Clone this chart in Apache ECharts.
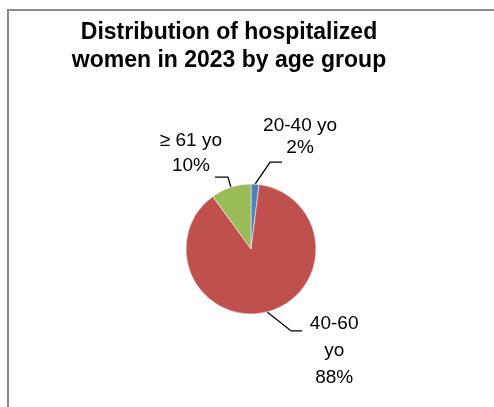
<!DOCTYPE html>
<html>
<head>
<meta charset="utf-8">
<title>Distribution of hospitalized women in 2023 by age group</title>
<script src="https://cdn.jsdelivr.net/npm/echarts@6/dist/echarts.min.js"></script>
<style>
  html, body { margin: 0; padding: 0; background: #fff; }
  #chart { width: 494px; height: 407px; }
</style>
</head>
<body>
<div id="chart"></div>
<script>
// Age groups and their share of hospitalized women (percent)
const categories = ['20-40 yo', '40-60\nyo', '\u2265 61 yo'];
const shares = [2, 88, 10];
const colors = ['#4F81BD', '#C0504D', '#9BBB59'];

// Leader line bends / label centres, relative to the slice edge point
const leaderStyle = [
  { bend: [15, -22], end: [27, -22], text: [45, -47], lineHeight: 22 },
  { bend: [24, 19], end: [35, 19], text: [67, 39], lineHeight: 27 },
  { bend: [-3, -10], end: [-16, -10], text: [-40, -34], lineHeight: 25 }
];

const chart = echarts.init(document.getElementById('chart'), null, { renderer: 'canvas' });

const pieData = categories.map((name, i) => ({
  name: name,
  value: shares[i],
  itemStyle: { color: colors[i] },
  label: { lineHeight: leaderStyle[i].lineHeight }
}));

chart.setOption({
  animation: false,
  backgroundColor: '#ffffff',
  title: {
    text: 'Distribution of hospitalized\nwomen in 2023 by age group',
    left: 229,
    top: 19,
    textAlign: 'center',
    padding: 0,
    textStyle: {
      fontFamily: 'Liberation Sans, Arial, sans-serif',
      fontSize: 23,
      fontWeight: 'bold',
      color: '#000',
      lineHeight: 28
    }
  },
  graphic: [{
    type: 'rect',
    silent: true,
    shape: { x: 8, y: 10, width: 1000, height: 1000 },
    style: { fill: 'none', stroke: '#8a8a8a', lineWidth: 2 }
  }],
  series: [{
    type: 'pie',
    center: [251, 249],
    radius: 65,
    startAngle: 90,
    clockwise: true,
    avoidLabelOverlap: false,
    data: pieData,
    itemStyle: { borderColor: '#ffffff', borderWidth: 0.5 },
    label: {
      show: true,
      position: 'outside',
      formatter: (p) => p.name + '\n' + p.value + '%',
      fontFamily: 'Liberation Sans, Arial, sans-serif',
      fontSize: 19,
      color: '#000'
    },
    labelLine: {
      show: true,
      length: 10,
      length2: 12,
      lineStyle: { color: '#000', width: 1.3 }
    },
    labelLayout: function (params) {
      const pts = params.labelLinePoints;
      if (!pts) { return {}; }
      const e = pts[0];
      const s = leaderStyle[params.dataIndex];
      return {
        x: e[0] + s.text[0],
        y: e[1] + s.text[1],
        align: 'center',
        verticalAlign: 'middle',
        labelLinePoints: [
          [e[0], e[1]],
          [e[0] + s.bend[0], e[1] + s.bend[1]],
          [e[0] + s.end[0], e[1] + s.end[1]]
        ]
      };
    },
    emphasis: { disabled: true }
  }]
});
</script>
</body>
</html>
